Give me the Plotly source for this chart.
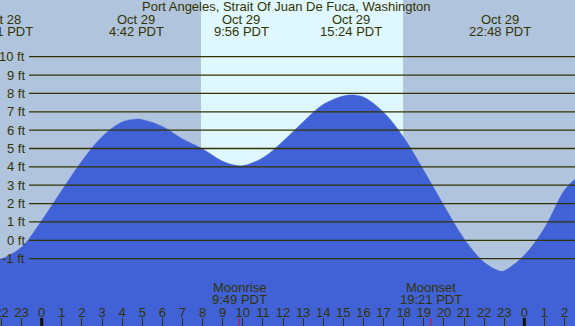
import plotly.graph_objects as go

# Tide heights (ft), by hour from midnight Oct 29 (PDT)
hours = [-2.1, -1.98, -1, 0, 1, 2, 3, 4, 4.7, 5, 6, 7, 8, 9, 9.93, 11, 12, 13, 14, 15,
         15.4, 16, 17, 18, 19, 20, 21, 22, 22.8, 23, 24, 25, 26, 26.52]
heights = [-1.0, -1.0, -0.37, 1.08, 2.72, 4.32, 5.64, 6.45, 6.6, 6.57, 6.2, 5.52, 4.98, 4.3, 4.06, 4.5, 5.4, 6.45, 7.4, 7.86,
           7.92, 7.8, 6.97, 5.6, 3.8, 1.89, 0.09, -1.2, -1.68, -1.66, -0.82, 0.67, 2.74, 3.32]

# High / low tide events
event_hours = [-1.98, 4.7, 9.93, 15.4, 22.8]
event_dates = ["Oct 28", "Oct 29", "Oct 29", "Oct 29", "Oct 29"]
event_times = ["22:01 PDT", "4:42 PDT", "9:56 PDT", "15:24 PDT", "22:48 PDT"]

# Moon events
moon_hours = [9.82, 19.35]
moon_labels = ["Moonrise", "Moonset"]
moon_times = ["9:49 PDT", "19:21 PDT"]

# Daylight
sunrise_hour = 7.92
sunset_hour = 17.97

# Axes
ft_levels = [-1, 0, 1, 2, 3, 4, 5, 6, 7, 8, 9, 10]
ft_labels = [f"{v} ft" for v in ft_levels]
hour_ticks = list(range(-2, 27))
hour_labels = [str(h % 24) for h in hour_ticks]
midnights = [0, 24]

X_RANGE = [-2.074, 26.52]
Y_RANGE = [-4.67, 13.09]

NIGHT = "#b0c4de"
DAY = "#dff7ff"
WATER = "#4162d6"
INK = "#333300"
FONT = "Liberation Sans, Arial, sans-serif"
W, H = 575, 326

fig = go.Figure()
fig.add_trace(go.Scatter(x=[hours[0], hours[-1]], y=[Y_RANGE[0], Y_RANGE[0]], mode="lines",
                         line=dict(width=0), hoverinfo="skip", showlegend=False))
fig.add_trace(go.Scatter(x=hours, y=heights, mode="lines", line=dict(color=WATER, width=0.5, shape="spline"),
                         fill="tonexty", fillcolor=WATER, showlegend=False))

shapes = []
shapes.append(dict(type="rect", xref="x", yref="paper", x0=sunrise_hour, x1=sunset_hour, y0=0, y1=1,
                   fillcolor=DAY, line=dict(width=0), layer="below"))
for v in ft_levels:
    shapes.append(dict(type="line", xref="paper", yref="y", x0=29 / W, x1=1, y0=v, y1=v,
                       line=dict(color=INK, width=1.3), layer="above"))
for m in midnights:
    shapes.append(dict(type="line", xref="x", yref="paper", x0=m, x1=m, y0=0, y1=8 / H,
                       line=dict(color="#111100", width=3), layer="above"))
for mh in moon_hours:
    shapes.append(dict(type="line", xref="x", yref="paper", x0=mh, x1=mh, y0=0, y1=8 / H,
                       line=dict(color="red", width=1), layer="above"))

ann = []
ann.append(dict(text="Port Angeles, Strait Of Juan De Fuca, Washington", xref="paper", yref="paper",
                x=0.4983, y=1 - 7 / H, xanchor="center", yanchor="middle", showarrow=False))
for h, d, t in zip(event_hours, event_dates, event_times):
    ann.append(dict(text=d, xref="x", yref="paper", x=h, y=1 - 20 / H, xanchor="center", yanchor="middle", showarrow=False))
    ann.append(dict(text=t, xref="x", yref="paper", x=h, y=1 - 32 / H, xanchor="center", yanchor="middle", showarrow=False))
for h, lab, t in zip(moon_hours, moon_labels, moon_times):
    ann.append(dict(text=lab, xref="x", yref="paper", x=h, y=1 - 287.5 / H, xanchor="center", yanchor="middle", showarrow=False))
    ann.append(dict(text=t, xref="x", yref="paper", x=h, y=1 - 299 / H, xanchor="center", yanchor="middle", showarrow=False))
for v, lab in zip(ft_levels, ft_labels):
    ann.append(dict(text=lab, xref="paper", yref="y", x=27 / W, y=v, xanchor="right", yanchor="middle", showarrow=False))

fig.update_layout(
    width=W, height=H, margin=dict(l=0, r=0, t=0, b=0, pad=0, autoexpand=False),
    paper_bgcolor=NIGHT, plot_bgcolor=NIGHT,
    font=dict(family=FONT, size=13, color=INK),
    shapes=shapes, annotations=ann, showlegend=False,
    xaxis=dict(range=X_RANGE, showgrid=False, zeroline=False, showline=False, automargin=False,
               tickvals=hour_ticks, ticktext=hour_labels, ticks="inside", ticklen=8, tickwidth=1,
               tickcolor=INK, ticklabelposition="inside", ticklabeloverflow="allow", ticklabelstandoff=-2,
               tickfont=dict(family=FONT, size=13, color=INK), fixedrange=True),
    yaxis=dict(range=Y_RANGE, showgrid=False, zeroline=False, showline=False, showticklabels=False,
               ticks="", fixedrange=True, automargin=False),
)
fig.write_html(
    "out.html",
    config={"displayModeBar": False},
    post_script="document.body.style.margin='0';document.body.style.overflow='hidden';",
)
